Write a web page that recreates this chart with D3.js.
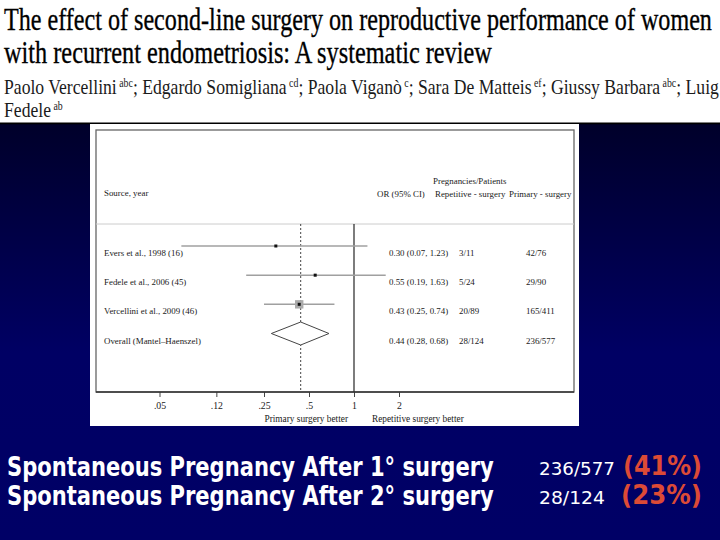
<!DOCTYPE html>
<html><head><meta charset="utf-8">
<script src="https://cdn.jsdelivr.net/npm/d3@7"></script>
<style>html,body{margin:0;padding:0;background:#fff;}svg{display:block;}</style>
</head><body>
<svg id="c" width="720" height="540"></svg>
<script>
// ---------- data ----------
const titleLines = ["The effect of second-line surgery on reproductive performance of women",
                    "with recurrent endometriosis: A systematic review"];
const authors = [["Paolo Vercellini","abc"],["Edgardo Somigliana","cd"],["Paola Viganò","c"],
                 ["Sara De Matteis","ef"],["Giussy Barbara","abc"],["Luigi Fedele","ab"]];
const studies = ["Evers et al., 1998 (16)", "Fedele et al., 2006 (45)", "Vercellini et al., 2009 (46)"];
const orValues = [0.30, 0.55, 0.43];
const ciLow = [0.07, 0.19, 0.25];
const ciHigh = [1.23, 1.63, 0.74];
const weights = [0.05, 0.08, 0.87];
const repSurgery = ["3/11", "5/24", "20/89"];
const primSurgery = ["42/76", "29/90", "165/411"];
const overallLabel = "Overall (Mantel–Haenszel)";
const overallOR = [0.44, 0.28, 0.68];
const overallRep = "28/124", overallPrim = "236/577";
const tickValues = [0.05, 0.12, 0.25, 0.5, 1, 2];
const tickLabels = [".05", ".12", ".25", ".5", "1", "2"];
const summaryLabels = ["Spontaneous Pregnancy After 1° surgery", "Spontaneous Pregnancy After 2° surgery"];
const summaryCounts = ["236/577", "28/124"];
const summaryPct = ["(41%)", "(23%)"];

// ---------- drawing ----------
const svg = d3.select("#c");
const defs = svg.append("defs");
const grad = defs.append("linearGradient").attr("id","bg").attr("x1",0).attr("y1",0).attr("x2",0).attr("y2",1);
grad.append("stop").attr("offset","0%").attr("stop-color","#00002a");
grad.append("stop").attr("offset","55%").attr("stop-color","#000064");
grad.append("stop").attr("offset","100%").attr("stop-color","#000066");

svg.append("rect").attr("x",0).attr("y",0).attr("width",720).attr("height",124).attr("fill","#fff");
svg.append("rect").attr("x",0).attr("y",124).attr("width",720).attr("height",416).attr("fill","url(#bg)");
svg.append("rect").attr("x",0).attr("y",122.5).attr("width",720).attr("height",1.8).attr("fill","#000");

const serif = "'Liberation Serif','Times New Roman',serif";

function fitScaled(g, el, target) {
  const w = el.node().getComputedTextLength();
  g.attr("transform", g.attr("transform") + ` scale(${target / w},1)`);
}
// title
const titleY = [30, 63];
const titleW = [708, 488];
titleLines.forEach((t, i) => {
  const g = svg.append("g").attr("transform", `translate(4,${titleY[i]})`);
  const el = g.append("text").attr("font-family", serif).attr("font-size", 32.5).attr("fill", "#000")
    .attr("stroke", "#000").attr("stroke-width", 0.35).text(t);
  fitScaled(g, el, titleW[i]);
});
// authors (the first line is cut in the slide after "Luig")
{
  const g = svg.append("g");
  const el = g.append("text").attr("font-family", serif).attr("font-size", 21.5).attr("fill", "#1a1a1a");
  authors.forEach((a, i) => {
    if (i === authors.length - 1) {
      el.append("tspan").text(a[0].split(" ")[0].slice(0, 4));
    } else {
      el.append("tspan").text(a[0]);
      el.append("tspan").attr("font-size", 12).attr("dy", -7).text(" " + a[1]);
      el.append("tspan").attr("dy", 7).text("; ");
    }
  });
  const w = el.node().getComputedTextLength();
  const k = (719 - 4) / w;
  g.attr("transform", `translate(4,94) scale(${k},1)`);
  const g2 = svg.append("g").attr("transform", `translate(4,117) scale(${k},1)`);
  const e2 = g2.append("text").attr("font-family", serif).attr("font-size", 21.5).attr("fill", "#1a1a1a");
  e2.append("tspan").text(authors[authors.length-1][0].split(" ")[1]);
  e2.append("tspan").attr("font-size", 12).attr("dy", -7).text(" " + authors[authors.length-1][1]);
}

// ---------- forest plot ----------
svg.append("rect").attr("x",90).attr("y",124).attr("width",489).attr("height",302).attr("fill","#fff");
const fx0 = 96, fy0 = 130, fx1 = 574, fy1 = 392;
svg.append("rect").attr("x",fx0).attr("y",fy0).attr("width",fx1-fx0).attr("height",fy1-fy0)
  .attr("fill","none").attr("stroke","#666").attr("stroke-width",1.3);
svg.append("line").attr("x1",fx0).attr("x2",fx1).attr("y1",224).attr("y2",224).attr("stroke","#ccc").attr("stroke-width",1);

const x = d3.scaleLog().domain([0.25, 2]).range([264, 399]);
const rowsY = d3.scalePoint().domain(d3.range(4)).range([246, 333.5]);
const fs = 8.9;
const txt = (xx, yy, t, anchor="start", size=fs) => svg.append("text").attr("x", xx).attr("y", yy)
  .attr("font-family", serif).attr("font-size", size).attr("fill", "#1a1a1a").attr("text-anchor", anchor).text(t);

txt(104, 196, "Source, year");
txt(433, 184, "Pregnancies/Patients");
txt(377, 197, "OR (95% CI)");
txt(435, 197, "Repetitive - surgery");
txt(509, 197, "Primary - surgery");

// reference lines
svg.append("line").attr("x1", x(1)).attr("x2", x(1)).attr("y1", 224).attr("y2", fy1).attr("stroke", "#111").attr("stroke-width", 1.1);
svg.append("line").attr("x1", x(overallOR[0])).attr("x2", x(overallOR[0])).attr("y1", 224).attr("y2", fy1)
  .attr("stroke", "#444").attr("stroke-width", 1).attr("stroke-dasharray", "2,2");

const fmt = d3.format(".2f");
studies.forEach((s, i) => {
  const y = rowsY(i);
  svg.append("line").attr("x1", x(ciLow[i])).attr("x2", x(ciHigh[i])).attr("y1", y).attr("y2", y)
    .attr("stroke", "#a0a0a0").attr("stroke-width", 1.5);
  const bs = Math.sqrt(weights[i]) * 9;
  svg.append("rect").attr("x", x(orValues[i]) - bs/2).attr("y", y - bs/2).attr("width", bs).attr("height", bs).attr("fill", "#aaa");
  svg.append("rect").attr("x", x(orValues[i]) - 1.5).attr("y", y - 1.5).attr("width", 3).attr("height", 3).attr("fill", "#111");
  txt(104, y + 10, s);
  txt(389, y + 10, `${fmt(orValues[i])} (${fmt(ciLow[i])}, ${fmt(ciHigh[i])})`);
  txt(459, y + 10, repSurgery[i]);
  txt(526, y + 10, primSurgery[i]);
});
{
  const y = rowsY(3);
  const d = [[x(overallOR[1]), y], [x(overallOR[0]), y - 11.5], [x(overallOR[2]), y], [x(overallOR[0]), y + 11.5]];
  svg.append("path").attr("d", "M" + d.join("L") + "Z").attr("fill", "#fff").attr("stroke", "#444").attr("stroke-width", 1);
  txt(104, y + 10, overallLabel);
  txt(389, y + 10, `${fmt(overallOR[0])} (${fmt(overallOR[1])}, ${fmt(overallOR[2])})`);
  txt(459, y + 10, overallRep);
  txt(526, y + 10, overallPrim);
}
// axis
const axis = d3.axisBottom(x).tickValues(tickValues).tickFormat((d, i) => tickLabels[i]).tickSize(5).tickSizeOuter(0);
const ag = svg.append("g").attr("transform", `translate(0,${fy1})`).call(axis);
ag.select(".domain").remove();
ag.selectAll(".tick line").attr("stroke", "#444");
ag.selectAll(".tick text").attr("font-family", serif).attr("font-size", 9.8).attr("fill", "#1a1a1a").attr("dy", "0.9em");
svg.append("line").attr("x1", fx0).attr("x2", fx1).attr("y1", fy1).attr("y2", fy1).attr("stroke", "#333").attr("stroke-width", 1.3);
txt(348, 422, "Primary surgery better", "end", 9.3);
txt(372, 422, "Repetitive surgery better", "start", 9.3);

// ---------- summary ----------
const sumY = [476, 505];
summaryLabels.forEach((t, i) => {
  const g = svg.append("g").attr("transform", `translate(7,${sumY[i]})`);
  const el = g.append("text").attr("font-family", "'DejaVu Sans',Verdana,sans-serif").attr("font-weight", "bold")
    .attr("font-size", 27).attr("fill", "#fff").text(t);
  fitScaled(g, el, 487);
  const g2 = svg.append("g").attr("transform", `translate(539,${sumY[i] - 1})`);
  const e2 = g2.append("text").attr("font-family", "'DejaVu Sans',Verdana,sans-serif")
    .attr("font-size", 17).attr("fill", "#fff").text(summaryCounts[i]);
  fitScaled(g2, e2, i === 0 ? 76 : 66);
  const px = i === 0 ? 623 : 621;
  const g3 = svg.append("g").attr("transform", `translate(${px},${sumY[i] - 1})`);
  const e3 = g3.append("text").attr("font-family", "'DejaVu Sans',Verdana,sans-serif").attr("font-weight", "bold")
    .attr("font-size", 26).attr("fill", "#dc4a36").text(summaryPct[i]);
  fitScaled(g3, e3, 702 - px);
});
</script>
</body></html>
